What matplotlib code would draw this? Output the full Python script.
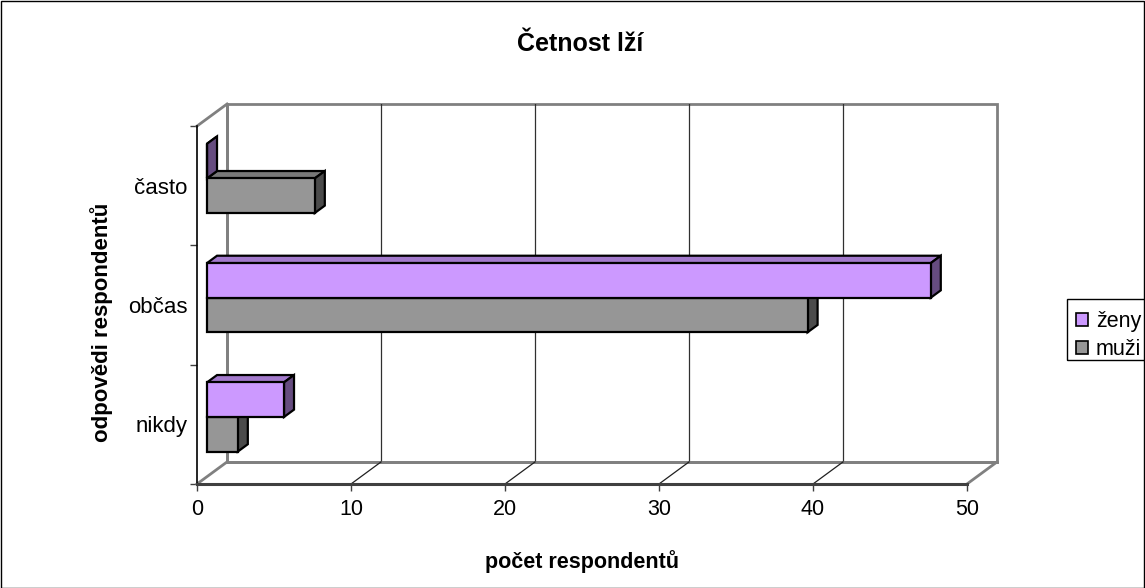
import matplotlib
matplotlib.use("Agg")
import matplotlib.pyplot as plt
import matplotlib.patches as mpatches
from matplotlib.patches import Polygon, Rectangle

plt.rcParams["font.family"] = ["Liberation Sans", "DejaVu Sans"]

# ── data ─────────────────────────────────────────────────────────────────────
categories = ["nikdy", "občas", "často"]
zeny = [5, 47, 0]
muzi = [2, 39, 7]
xticks = [0, 10, 20, 30, 40, 50]
series_names = ["ženy", "muži"]

title = "Četnost lží"
xlabel = "počet respondentů"
ylabel = "odpovědi respondentů"

# ── style ────────────────────────────────────────────────────────────────────
COLORS = {
    "ženy": ("#CC99FF", "#A37ACC", "#664C80"),   # front, top, side
    "muži": ("#969696", "#787878", "#4B4B4B"),
}
WALL = "#808080"
XMAX = 50
DX, DY = 1.95, 0.185        # full depth offset in data units
D0, D1 = 1 / 3, 2 / 3        # bar depth slab
H = 0.29                     # bar thickness (category units)

W, Hpx = 1145, 588
fig = plt.figure(figsize=(W / 100, Hpx / 100), dpi=100)
ax = fig.add_axes([197 / W, 104 / Hpx, 800 / W, 380 / Hpx])
ax.set_xlim(0, XMAX + DX)
ax.set_ylim(0, len(categories) + DY)

ncat = len(categories)

# back wall
ax.add_patch(Rectangle((DX, DY), XMAX, ncat, facecolor="white",
                       edgecolor=WALL, lw=2, zorder=1, clip_on=False))
for x in xticks[1:-1]:
    ax.plot([x + DX, x + DX], [DY, ncat + DY], color="#303030", lw=0.9, zorder=1.5)
# floor
ax.plot([DX, XMAX + DX], [DY, DY], color=WALL, lw=2, zorder=1.6, clip_on=False)
for x in xticks:
    c = WALL if x in (xticks[0], xticks[-1]) else "#202020"
    lw = 2 if c == WALL else 0.9
    ax.plot([x, x + DX], [0, DY], color=c, lw=lw, zorder=1.6, clip_on=False)
# side wall
ax.plot([0, DX], [ncat, ncat + DY], color=WALL, lw=2, zorder=1.6, clip_on=False)
ax.plot([DX, DX], [DY, ncat + DY], color=WALL, lw=2, zorder=1.6, clip_on=False)


def draw_bar(v, y0, y1, name, z):
    front, top, side = COLORS[name]
    ax0, ay0 = D0 * DX, D0 * DY
    ax1, ay1 = D1 * DX, D1 * DY
    kw = dict(edgecolor="black", lw=1.6, joinstyle="miter", zorder=z)
    ax.add_patch(Polygon([(ax0, y1 + ay0), (v + ax0, y1 + ay0),
                          (v + ax1, y1 + ay1), (ax1, y1 + ay1)],
                         closed=True, facecolor=top, **kw))
    ax.add_patch(Polygon([(v + ax0, y0 + ay0), (v + ax0, y1 + ay0),
                          (v + ax1, y1 + ay1), (v + ax1, y0 + ay1)],
                         closed=True, facecolor=side, **kw))
    ax.add_patch(Rectangle((ax0, y0 + ay0), v, y1 - y0, facecolor=front, **kw))


for i, cat in enumerate(categories):
    yc = i + 0.5
    draw_bar(muzi[i], yc - H, yc, "muži", 3 + i * 0.1)
    draw_bar(zeny[i], yc, yc + H, "ženy", 3.05 + i * 0.1)

# axes
for s in ("top", "right"):
    ax.spines[s].set_visible(False)
ax.spines["bottom"].set_bounds(0, XMAX)
ax.spines["bottom"].set_color("#404040")
ax.spines["bottom"].set_linewidth(2.2)
ax.spines["left"].set_bounds(0, ncat)
ax.spines["left"].set_color("black")
ax.spines["left"].set_linewidth(1.2)
ax.spines["bottom"].set_zorder(5)
ax.spines["left"].set_zorder(5)

ax.set_xticks(xticks)
ax.set_xticklabels([str(x) for x in xticks])
ax.tick_params(axis="x", length=5, width=1, color="#404040", labelsize=15.5, pad=6)
ax.set_yticks(range(ncat + 1))
ax.set_yticklabels([""] * (ncat + 1))
ax.tick_params(axis="y", which="major", length=5, width=1, color="#404040")
ax.set_yticks([i + 0.5 for i in range(ncat)], minor=True)
ax.set_yticklabels(categories, minor=True)
ax.tick_params(axis="y", which="minor", length=0, labelsize=16, pad=7)

fig.text(580 / W, 1 - 44 / Hpx, title, ha="center", va="center",
         fontsize=18, fontweight="bold")
fig.text(582 / W, 1 - 562 / Hpx, xlabel, ha="center", va="center",
         fontsize=15.5, fontweight="bold")
fig.text(102 / W, 1 - 322 / Hpx, ylabel, ha="center", va="center",
         rotation=90, fontsize=16, fontweight="bold")

# legend (box runs off the right edge, as in the original)
handles = [mpatches.Patch(facecolor=COLORS[n][0], edgecolor="black", lw=1.2, label=n)
           for n in series_names]
leg = fig.legend(handles=handles, loc="upper left",
                 bbox_to_anchor=(1070 / W, 1 - 305 / Hpx), borderaxespad=0,
                 fontsize=15.5, frameon=False,
                 handlelength=0.55, handleheight=0.55, handletextpad=0.35,
                 labelspacing=0.3, borderpad=0.3)
fig.add_artist(Rectangle((1067 / W, 1 - 360 / Hpx), 100 / W, 61 / Hpx,
                         transform=fig.transFigure, fill=False,
                         edgecolor="black", lw=1))

fig.add_artist(Rectangle((0.5 / W, 0.5 / Hpx), 1 - 1.5 / W, 1 - 1.5 / Hpx,
                         transform=fig.transFigure, fill=False,
                         edgecolor="black", lw=1))

fig.savefig("out.png", dpi=100)
